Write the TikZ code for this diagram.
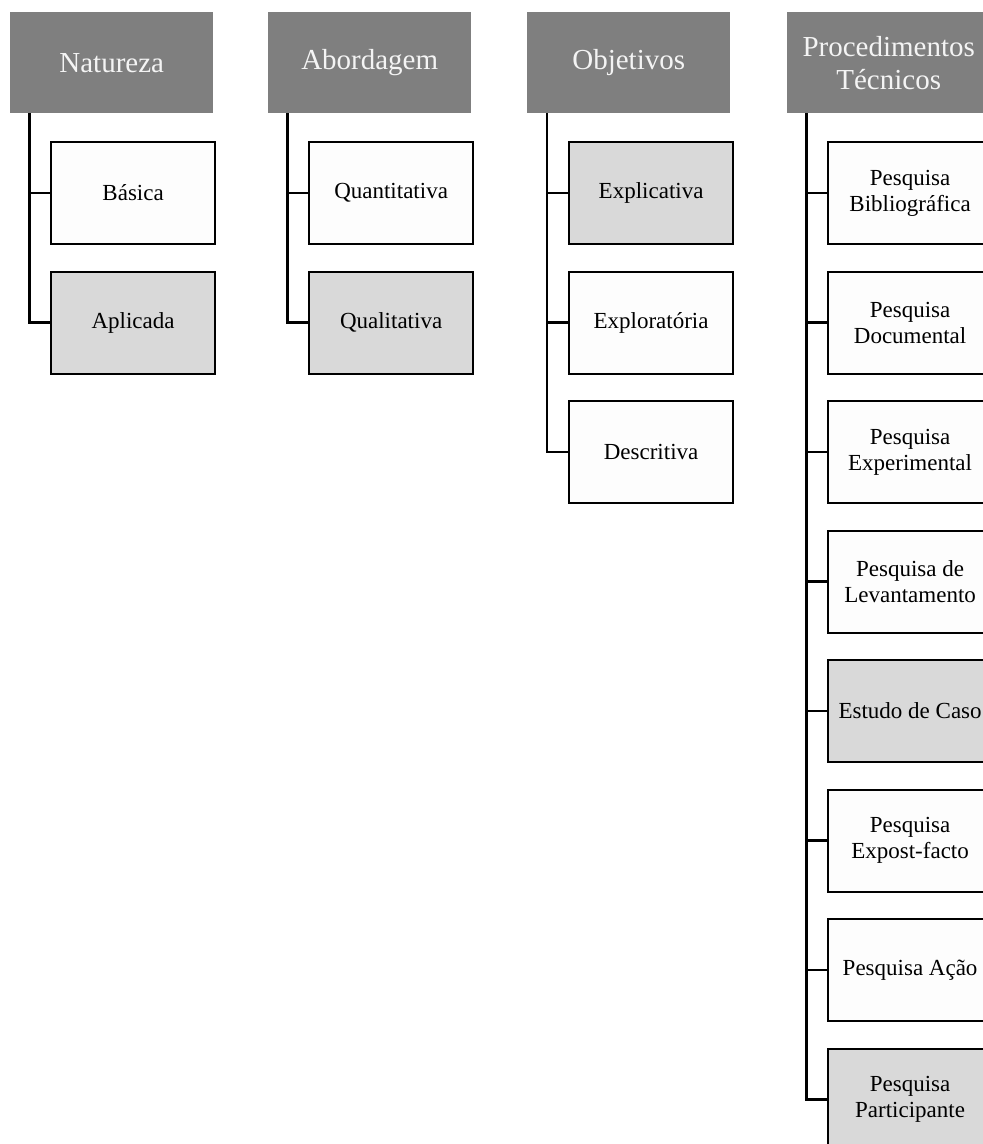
\documentclass[tikz,border=0pt]{standalone}
\usepackage{fontspec}
\setmainfont{Liberation Serif}
\usetikzlibrary{positioning}
\definecolor{hdrgray}{HTML}{7F7F7F}
\definecolor{hdrtext}{HTML}{F4F4F4}
\definecolor{optwhite}{HTML}{FDFDFD}
\definecolor{optgray}{HTML}{D9D9D9}
\tikzset{
  hdr/.style={fill=hdrgray, text=hdrtext, minimum width=203pt, minimum height=101pt,
    inner sep=0pt, align=center, anchor=north west, font=\fontsize{29}{33}\selectfont},
  opt/.style={draw, line width=2.2pt, fill=optwhite, minimum width=164pt, minimum height=102pt,
    inner sep=0pt, align=center, anchor=north west, font=\fontsize{23}{26}\selectfont},
  sel/.style={opt, fill=optgray},
  link/.style={line width=2.6pt}
}
\begin{document}
\begin{tikzpicture}[x=1pt,y=-1pt]
  \useasboundingbox (0,0) rectangle (983,1144);
  \clip (0,0) rectangle (983,1144);
  % headers
  \node [hdr] (NAT) at (10, 12) {Natureza};
  \node [hdr] (ABO) at (268, 12) {Abordagem};
  \node [hdr] (OBJ) at (527, 12) {Objetivos};
  \node [hdr] (PRO) at (787, 12) {Procedimentos\\Técnicos};
  % natureza
  \node [opt] (NAT1) at (50, 141) {Básica};
  \node [sel] (NAT2) at (50, 270.5) {Aplicada};
  % abordagem
  \node [opt] (ABO1) at (308, 141) {Quantitativa};
  \node [sel] (ABO2) at (308, 270.5) {Qualitativa};
  % objetivos
  \node [sel] (OBJ1) at (568, 141) {Explicativa};
  \node [opt] (OBJ2) at (568, 270.5) {Exploratória};
  \node [opt] (OBJ3) at (568, 400) {Descritiva};
  % procedimentos
  \node [opt] (PRO1) at (827, 141) {Pesquisa\\Bibliográfica};
  \node [opt] (PRO2) at (827, 270.5) {Pesquisa\\Documental};
  \node [opt] (PRO3) at (827, 400) {Pesquisa\\Experimental};
  \node [opt] (PRO4) at (827, 529.5) {Pesquisa de\\Levantamento};
  \node [sel] (PRO5) at (827, 659) {Estudo de Caso};
  \node [opt] (PRO6) at (827, 788.5) {Pesquisa\\Expost-facto};
  \node [opt] (PRO7) at (827, 918) {Pesquisa Ação};
  \node [sel] (PRO8) at (827, 1047.5) {Pesquisa\\Participante};
  % links
  \draw [link] ([xshift=19.5pt]NAT.south west) |- (NAT1.west);
  \draw [link] ([xshift=19.5pt]NAT.south west) |- (NAT2.west);
  \draw [link] ([xshift=19.5pt]ABO.south west) |- (ABO1.west);
  \draw [link] ([xshift=19.5pt]ABO.south west) |- (ABO2.west);
  \draw [link] ([xshift=20pt]OBJ.south west) |- (OBJ1.west);
  \draw [link] ([xshift=20pt]OBJ.south west) |- (OBJ2.west);
  \draw [link] ([xshift=20pt]OBJ.south west) |- (OBJ3.west);
  \draw [link] ([xshift=19.5pt]PRO.south west) |- (PRO1.west);
  \draw [link] ([xshift=19.5pt]PRO.south west) |- (PRO2.west);
  \draw [link] ([xshift=19.5pt]PRO.south west) |- (PRO3.west);
  \draw [link] ([xshift=19.5pt]PRO.south west) |- (PRO4.west);
  \draw [link] ([xshift=19.5pt]PRO.south west) |- (PRO5.west);
  \draw [link] ([xshift=19.5pt]PRO.south west) |- (PRO6.west);
  \draw [link] ([xshift=19.5pt]PRO.south west) |- (PRO7.west);
  \draw [link] ([xshift=19.5pt]PRO.south west) |- (PRO8.west);
\end{tikzpicture}
\end{document}
